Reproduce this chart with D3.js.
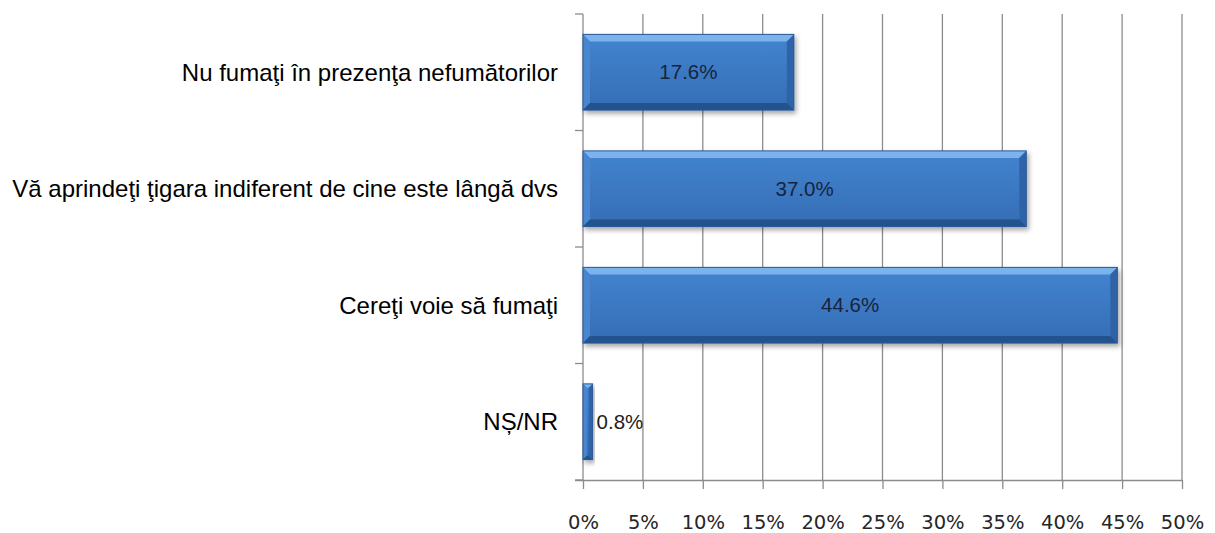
<!DOCTYPE html>
<html>
<head>
<meta charset="utf-8">
<script src="https://cdn.jsdelivr.net/npm/d3@7"></script>
<style>
  body { margin: 0; background: #fff; }
</style>
</head>
<body>
<div class="chart"></div>
<script>
// data
const categories = [
    "Nu fumaţi în prezenţa nefumătorilor",
    "Vă aprindeţi ţigara indiferent de cine este lângă dvs",
    "Cereţi voie să fumaţi",
    "NȘ/NR"
];
const values = [17.6, 37.0, 44.6, 0.8];
const xTicks = [0, 5, 10, 15, 20, 25, 30, 35, 40, 45, 50];

const width = 1215, height = 533;
const margin = {top: 14, right: 33, bottom: 53, left: 583};

const svg = d3.select(".chart")
    .append("svg")
    .attr("width", width)
    .attr("height", height);

const defs = svg.append("defs");
const shadow = defs.append("filter").attr("id", "shadow")
    .attr("x", "-10%").attr("y", "-20%").attr("width", "130%").attr("height", "160%");
shadow.append("feDropShadow")
    .attr("dx", 2).attr("dy", 3).attr("stdDeviation", 2.5)
    .attr("flood-color", "#000").attr("flood-opacity", 0.35);

// body gradient, lighter at top
const grad = defs.append("linearGradient").attr("id", "barGrad")
    .attr("x1", 0).attr("y1", 0).attr("x2", 0).attr("y2", 1);
grad.append("stop").attr("offset", "0%").attr("stop-color", "#4384d0");
grad.append("stop").attr("offset", "100%").attr("stop-color", "#346db5");

const x = d3.scaleLinear()
    .domain([0, 50])
    .range([margin.left, width - margin.right]);

const y = d3.scaleBand()
    .domain(categories)
    .range([margin.top, height - margin.bottom])
    .paddingInner(0.35)
    .paddingOuter(0.175);

const x0 = x(0), yBottom = height - margin.bottom;

// gridlines
svg.append("g")
    .selectAll("line")
    .data(xTicks.slice(1))
    .join("line")
    .attr("x1", d => x(d)).attr("x2", d => x(d))
    .attr("y1", margin.top).attr("y2", yBottom)
    .attr("stroke", "#8c8c8c")
    .attr("stroke-width", 1.3);

// x axis
const xAxis = svg.append("g")
    .attr("transform", `translate(0,${yBottom})`)
    .call(d3.axisBottom(x).tickValues(xTicks).tickFormat(d => d + "%").tickSize(9));
xAxis.select(".domain").attr("stroke", "#8c8c8c").attr("stroke-width", 1.3)
    .attr("d", `M${x0 - 8},0.5H${x(50)}`);
xAxis.selectAll(".tick line").attr("stroke", "#8c8c8c").attr("stroke-width", 1.3);
xAxis.selectAll(".tick text")
    .attr("y", 49)
    .attr("dy", null)
    .attr("font-family", "DejaVu Sans, sans-serif")
    .attr("font-size", "19.5px")
    .attr("fill", "#262626");

// y axis line and boundary ticks
const bounds = d3.range(categories.length + 1).map(i =>
    margin.top + i * (yBottom - margin.top) / categories.length);
svg.append("line")
    .attr("x1", x0).attr("x2", x0)
    .attr("y1", margin.top).attr("y2", yBottom)
    .attr("stroke", "#8c8c8c").attr("stroke-width", 1.3);
svg.append("g").selectAll("line")
    .data(bounds)
    .join("line")
    .attr("x1", x0 - 8).attr("x2", x0)
    .attr("y1", d => d).attr("y2", d => d)
    .attr("stroke", "#8c8c8c").attr("stroke-width", 1.3);

// category labels
svg.append("g").selectAll("text")
    .data(categories)
    .join("text")
    .attr("x", margin.left - 25)
    .attr("y", d => y(d) + y.bandwidth() / 2)
    .attr("dy", "0.35em")
    .attr("text-anchor", "end")
    .attr("font-family", "Liberation Sans, Arial, sans-serif")
    .attr("font-size", "24px")
    .attr("fill", "#000")
    .text(d => d);

// bevelled bars
const bars = svg.append("g").selectAll("g")
    .data(categories.map((c, i) => ({cat: c, value: values[i]})))
    .join("g")
    .attr("filter", "url(#shadow)");

bars.each(function (d) {
    const g = d3.select(this);
    const x1 = x0, x2 = x(d.value);
    const y1 = y(d.cat), y2 = y1 + y.bandwidth();
    const b = Math.min(7, (x2 - x1) / 2.5);
    g.append("rect")
        .attr("x", x1).attr("y", y1)
        .attr("width", x2 - x1).attr("height", y2 - y1)
        .attr("fill", "url(#barGrad)");
    // top
    g.append("path")
        .attr("d", `M${x1},${y1}L${x2},${y1}L${x2 - b},${y1 + b}L${x1 + b},${y1 + b}Z`)
        .attr("fill", "#7cb3ec");
    // left
    g.append("path")
        .attr("d", `M${x1},${y1}L${x1 + b},${y1 + b}L${x1 + b},${y2 - b}L${x1},${y2}Z`)
        .attr("fill", "#4a86d0");
    // right
    g.append("path")
        .attr("d", `M${x2},${y1}L${x2},${y2}L${x2 - b},${y2 - b}L${x2 - b},${y1 + b}Z`)
        .attr("fill", "#2f64a8");
    // bottom
    g.append("path")
        .attr("d", `M${x1},${y2}L${x2},${y2}L${x2 - b},${y2 - b}L${x1 + b},${y2 - b}Z`)
        .attr("fill", "#24528d");
    g.append("rect")
        .attr("x", x1).attr("y", y1)
        .attr("width", x2 - x1).attr("height", y2 - y1)
        .attr("fill", "none")
        .attr("stroke", "#2a5a98").attr("stroke-width", 1);
});

// value labels
svg.append("g").selectAll("text")
    .data(categories.map((c, i) => ({cat: c, value: values[i]})))
    .join("text")
    .attr("x", d => d.value > 5 ? (x0 + x(d.value)) / 2 : x(d.value) + 4)
    .attr("y", d => y(d.cat) + y.bandwidth() / 2)
    .attr("dy", "0.35em")
    .attr("text-anchor", d => d.value > 5 ? "middle" : "start")
    .attr("font-family", "Liberation Sans, Arial, sans-serif")
    .attr("font-size", "20.5px")
    .attr("fill", d => d.value > 5 ? "#17243c" : "#222")
    .text(d => d.value.toFixed(1) + "%");
</script>
</body>
</html>
